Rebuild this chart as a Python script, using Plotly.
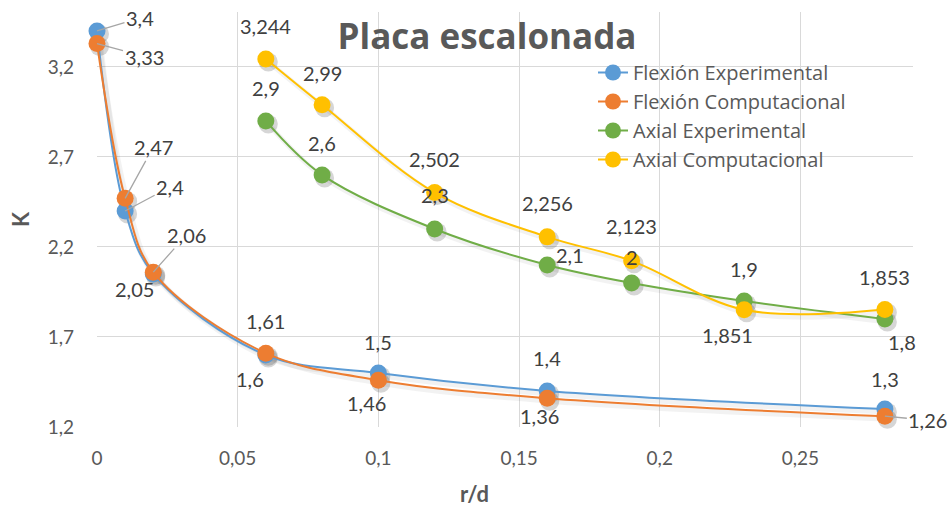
import plotly.graph_objects as go

# r/d values for each pair of series
x_flexion = [0, 0.01, 0.02, 0.06, 0.1, 0.16, 0.28]
x_axial = [0.06, 0.08, 0.12, 0.16, 0.19, 0.23, 0.28]

# stress concentration factor K
k_flexion_exp = [3.4, 2.4, 2.05, 1.6, 1.5, 1.4, 1.3]
k_flexion_comp = [3.33, 2.47, 2.06, 1.61, 1.46, 1.36, 1.26]
k_axial_exp = [2.9, 2.6, 2.3, 2.1, 2.0, 1.9, 1.8]
k_axial_comp = [3.244, 2.99, 2.502, 2.256, 2.123, 1.851, 1.853]

names = ["Flexión Experimental", "Flexión Computacional",
         "Axial Experimental", "Axial Computacional"]
colors = ["#5B9BD5", "#ED7D31", "#70AD47", "#FFC000"]

# label offsets in pixels (dx, dy screen-down) and whether a leader line is drawn
label_offsets = [
    [(43, -13, True), (45, -24, True), (-19, 15, False), (-16, 24, False),
     (0, -31, False), (0, -33, False), (0, -30, False)],
    [(47, 13, True), (28, -51, True), (33, -37, True), (0, -32, False),
     (-12, 23, False), (-8, 18, False), (43, 4, True)],
    [(0, -33, False), (0, -32, False), (0, -34, False), (23, -10, False),
     (0, -26, False), (0, -32, False), (17, 23, False)],
    [(0, -33, False), (0, -32, False), (0, -34, False), (0, -34, False),
     (0, -35, False), (-17, 25, False), (0, -32, False)],
]

series = [
    (x_flexion, k_flexion_exp),
    (x_flexion, k_flexion_comp),
    (x_axial, k_axial_exp),
    (x_axial, k_axial_comp),
]

FONT = "Lato, 'Open Sans', sans-serif"
WIDE_FONT = "'Open Sans', Lato, sans-serif"
X_RANGE = [0, 0.29]
Y_RANGE = [1.2, 3.505]
PLOT_W = 816
PLOT_H = 415

fig = go.Figure()

# soft drop shadow under every series
sx = 2.5 * (X_RANGE[1] - X_RANGE[0]) / PLOT_W
sy = 3.0 * (Y_RANGE[1] - Y_RANGE[0]) / PLOT_H
for xs, ys in series:
    fig.add_trace(go.Scatter(
        x=[v + sx for v in xs], y=[v - sy for v in ys],
        mode="lines+markers", line=dict(color="rgba(0,0,0,0.05)", width=5, shape="spline"),
        marker=dict(size=19, color="rgba(0,0,0,0.16)"),
        showlegend=False, hoverinfo="skip", cliponaxis=False,
    ))

for i, ((xs, ys), name, color) in enumerate(zip(series, names, colors)):
    fig.add_trace(go.Scatter(
        x=xs, y=ys, name=name, mode="lines+markers",
        line=dict(color=color, width=2, shape="spline", smoothing=1),
        marker=dict(size=17, color=color),
        cliponaxis=False, legendgroup=name,
    ))

# data labels
for (xs, ys), offs in zip(series, label_offsets):
    for xv, yv, (dx, dy, leader) in zip(xs, ys, offs):
        text = f"{yv:g}".replace(".", ",")
        if leader:
            fig.add_annotation(
                x=xv, y=yv, text=text, showarrow=True, ax=dx, ay=dy,
                arrowhead=0, arrowwidth=1.3, arrowcolor="#A6A6A6", standoff=0,
                font=dict(family=FONT, size=20, color="#404040"),
            )
        else:
            fig.add_annotation(
                x=xv, y=yv, text=text, showarrow=False, xshift=dx, yshift=-dy,
                font=dict(family=FONT, size=20, color="#404040"),
            )

# axis titles
fig.add_annotation(
    xref="paper", yref="paper", x=(21 - 97) / PLOT_W, y=(427 - 219) / PLOT_H,
    xanchor="center", yanchor="middle",
    text="<b>K</b>", showarrow=False, textangle=-90,
    font=dict(family=FONT, size=22, color="#595959"),
)
fig.add_annotation(
    xref="paper", yref="paper", x=(474 - 97) / PLOT_W, y=(427 - 494) / PLOT_H,
    xanchor="center", yanchor="middle",
    text="<b>r/d</b>", showarrow=False,
    font=dict(family=FONT, size=22, color="#595959"),
)

fig.update_layout(
    width=952, height=506,
    margin=dict(l=97, r=39, t=12, b=79),
    paper_bgcolor="white", plot_bgcolor="white",
    separators=",.",
    title=dict(
        text="<b>Placa escalonada</b>", xref="container", yref="container",
        x=487 / 952, y=1 - 37 / 506, xanchor="center", yanchor="middle",
        font=dict(family=WIDE_FONT, size=35, color="#595959"),
    ),
    legend=dict(
        x=(593 - 97) / PLOT_W, y=(427 - 53) / PLOT_H, xanchor="left", yanchor="top",
        bgcolor="rgba(0,0,0,0)", tracegroupgap=0,
        font=dict(family=WIDE_FONT, size=20, color="#595959"),
    ),
    showlegend=True,
)

fig.update_xaxes(
    range=X_RANGE, dtick=0.05, tick0=0, showgrid=True, gridcolor="#D9D9D9", gridwidth=1.3,
    zeroline=False, showline=False, ticks="", ticklabelstandoff=18,
    tickfont=dict(family=FONT, size=19, color="#595959"),
)
fig.update_yaxes(
    range=Y_RANGE, dtick=0.5, tick0=1.2, showgrid=True, gridcolor="#D9D9D9", gridwidth=1.3,
    zeroline=False, showline=False, ticks="", ticklabelstandoff=22,
    tickfont=dict(family=FONT, size=19, color="#595959"),
)

fig.write_html("out.html")
